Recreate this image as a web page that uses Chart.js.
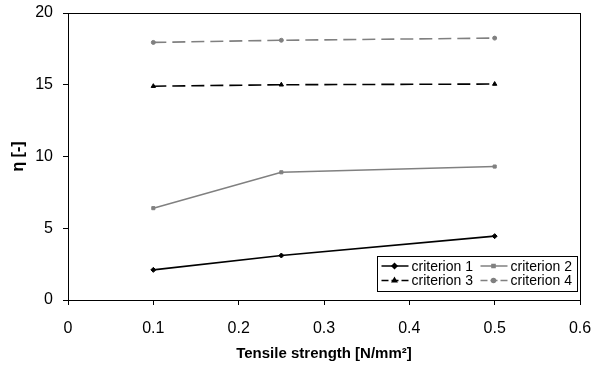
<!DOCTYPE html>
<html>
<head>
<meta charset="utf-8">
<script src="https://cdn.jsdelivr.net/npm/chart.js@4.4.1/dist/chart.umd.min.js"></script>
<style>
    html, body { margin: 0; padding: 0; background: #fff; }
    #wrap { width: 594px; height: 369px; position: relative; }
</style>
</head>
<body>
<div id="wrap"><canvas id="line-chart"></canvas></div>
<script>
    // ------------------------------------------------------
    // @Data
    // ------------------------------------------------------

    const strength   = [0.1, 0.25, 0.5];
    const criterion1 = [2.1, 3.1, 4.45];
    const criterion2 = [6.4, 8.9, 9.3];
    const criterion3 = [14.9, 15.0, 15.05];
    const criterion4 = [17.95, 18.1, 18.25];

    const xTicks = [0, 0.1, 0.2, 0.3, 0.4, 0.5, 0.6];
    const yTicks = [0, 5, 10, 15, 20];

    const FONT = 'Liberation Sans, Arial, sans-serif';
    const BLACK = '#000000';
    const GREY  = '#808080';

    const toPoints = (ys) => strength.map((x, i) => ({ x: x, y: ys[i] }));

    const series = [
        { label: 'criterion 1', data: criterion1, color: BLACK, dash: [],      point: 'rectRot',  radius: 2.5 },
        { label: 'criterion 2', data: criterion2, color: GREY,  dash: [],      point: 'rect',     radius: 2.2 },
        { label: 'criterion 3', data: criterion3, color: BLACK, dash: [13, 6], point: 'triangle', radius: 2.5 },
        { label: 'criterion 4', data: criterion4, color: GREY,  dash: [13, 6], point: 'circle',   radius: 2   },
    ];

    // ------------------------------------------------------
    // @Plugins: frame around the plot + boxed legend
    // ------------------------------------------------------

    const frame = {
        id: 'frame',
        beforeDatasetsDraw(chart) {
            const { ctx, chartArea: a } = chart;
            ctx.save();
            ctx.strokeStyle = BLACK;
            ctx.lineWidth = 1;
            ctx.strokeRect(Math.round(a.left) + 0.5, Math.round(a.top) + 0.5,
                Math.round(a.right - a.left), Math.round(a.bottom - a.top));
            ctx.restore();
        },
    };

    const boxLegend = {
        id: 'boxLegend',
        afterDatasetsDraw(chart) {
            const ctx = chart.ctx;
            const x0 = 377.5, y0 = 256.5, w = 200, h = 35;
            ctx.save();
            ctx.fillStyle = '#fff';
            ctx.fillRect(x0, y0, w, h);
            ctx.strokeStyle = BLACK;
            ctx.lineWidth = 1;
            ctx.strokeRect(x0, y0, w, h);

            ctx.font = '14px ' + FONT;
            ctx.textBaseline = 'middle';
            ctx.textAlign = 'left';

            series.forEach((s, i) => {
                const col = i % 2, row = Math.floor(i / 2);
                const lx = x0 + 4 + col * 99;
                const ly = y0 + 9.5 + row * 14.5;
                ctx.strokeStyle = s.color;
                ctx.lineWidth = 1.5;
                ctx.setLineDash(s.dash.length ? [7, 3] : []);
                ctx.beginPath();
                ctx.moveTo(lx, ly);
                ctx.lineTo(lx + 27, ly);
                ctx.stroke();
                ctx.setLineDash([]);
                ctx.fillStyle = s.color;
                Chart.helpers.drawPoint(ctx, {
                    pointStyle: s.point, radius: s.radius, borderWidth: 1,
                }, lx + 13, ly);
                ctx.fillStyle = BLACK;
                ctx.fillText(s.label, lx + 30, ly + 1);
            });
            ctx.restore();
        },
    };

    // ------------------------------------------------------
    // @Chart
    // ------------------------------------------------------

    const box = document.getElementById('line-chart');

    new Chart(box.getContext('2d'), {
        type: 'scatter',
        data: {
            datasets: series.map(s => ({
                label           : s.label,
                data            : toPoints(s.data),
                showLine        : true,
                borderColor     : s.color,
                backgroundColor : s.color,
                borderWidth     : 1.6,
                borderDash      : s.dash,
                pointStyle      : s.point,
                pointRadius     : s.radius,
                pointBorderWidth: 1,
                tension         : 0,
            })),
        },
        options: {
            responsive: true,
            maintainAspectRatio: false,
            animation: false,
            layout: { padding: { top: 13, right: 14, left: 0, bottom: 0 } },
            plugins: {
                legend: { display: false },
                tooltip: { enabled: false },
            },
            scales: {
                x: {
                    type: 'linear',
                    min: 0,
                    max: 0.6,
                    afterBuildTicks: (s) => { s.ticks = xTicks.map(v => ({ value: v })); },
                    afterFit: (s) => {
                        s.height = 69;
                        s.paddingLeft = 0;
                        s.paddingRight = 0;
                    },
                    ticks: {
                        color: BLACK,
                        font: { family: FONT, size: 16 },
                        padding: 14,
                        maxRotation: 0,
                        callback: (v) => String(v),
                    },
                    grid: { drawOnChartArea: false, color: BLACK, tickLength: 5 },
                    border: { color: BLACK },
                    title: {
                        display: true,
                        text: 'Tensile strength [N/mm²]',
                        color: BLACK,
                        font: { family: FONT, size: 15, weight: 'bold' },
                        padding: { top: 0, bottom: 6 },
                    },
                },
                y: {
                    min: 0,
                    max: 20,
                    afterBuildTicks: (s) => { s.ticks = yTicks.map(v => ({ value: v })); },
                    afterFit: (s) => {
                        s.width = 68;
                        s.paddingTop = 0;
                        s.paddingBottom = 0;
                    },
                    ticks: {
                        color: BLACK,
                        font: { family: FONT, size: 16 },
                        padding: 10,
                    },
                    grid: { drawOnChartArea: false, color: BLACK, tickLength: 5 },
                    border: { color: BLACK },
                    title: {
                        display: true,
                        text: 'η [-]',
                        color: BLACK,
                        font: { family: FONT, size: 16, weight: 'bold' },
                        padding: { top: 9, bottom: 0 },
                    },
                },
            },
        },
        plugins: [frame, boxLegend],
    });
</script>
</body>
</html>
